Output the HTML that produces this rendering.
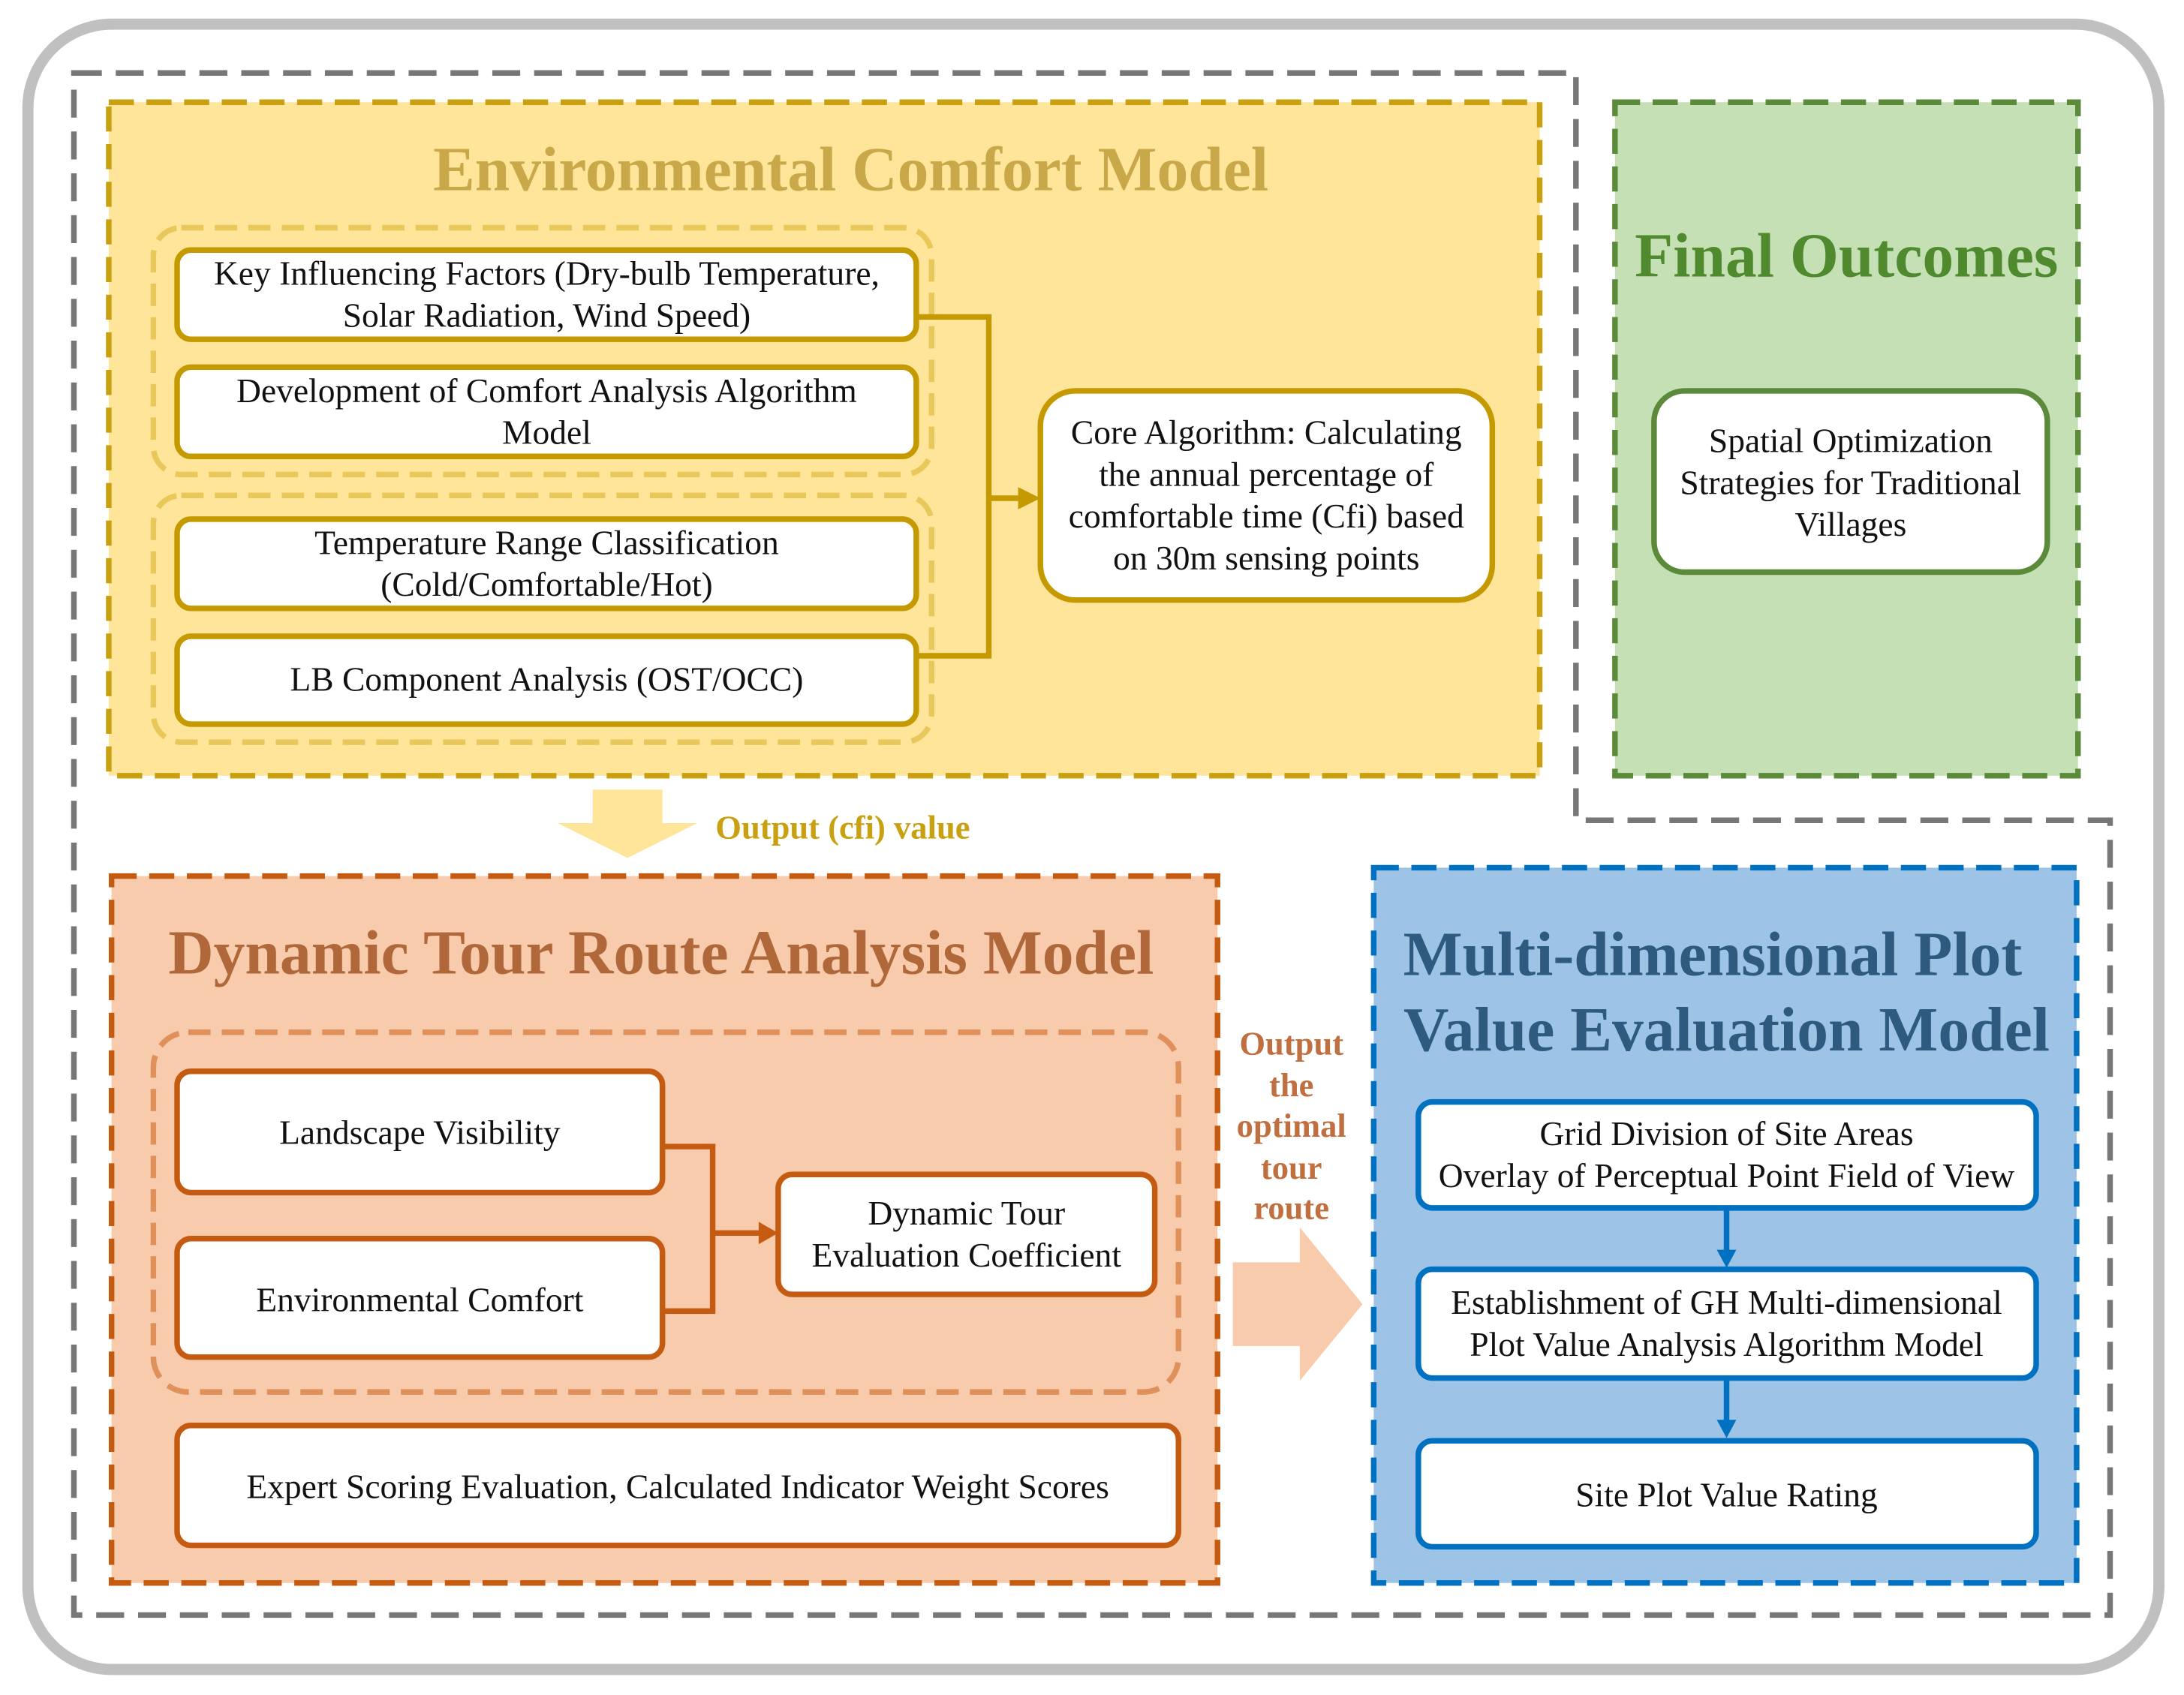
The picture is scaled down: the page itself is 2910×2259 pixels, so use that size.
<!DOCTYPE html>
<html><head><meta charset="utf-8"><style>
html,body{margin:0;padding:0;background:#fff;}
svg{display:block;}
text{font-family:"Liberation Serif",serif;}
</style></head><body>
<svg width="2910" height="2259" viewBox="0 0 1566 1215" xmlns="http://www.w3.org/2000/svg">
<rect width="1566" height="1215" fill="#fff"/>
<rect x="20" y="17" width="1528" height="1180" rx="60" fill="#fff" stroke="#c0c0c0" stroke-width="8"/>
<path d="M53,52 L1130,52 L1130,588 L1513,588 L1513,1158 L53,1158 Z" fill="none" stroke="#777" stroke-width="4" stroke-dasharray="20 10"/>

<!-- Yellow -->
<rect x="78" y="73" width="1026" height="483" fill="#fee599" stroke="#c9a010" stroke-width="4" stroke-dasharray="18 9"/>
<text x="610" y="136" text-anchor="middle" font-size="45" font-weight="bold" fill="#c9a84a">Environmental Comfort Model</text>
<rect x="110" y="163" width="558" height="177" rx="20" fill="none" stroke="#e8c85a" stroke-width="4" stroke-dasharray="16 8"/>
<rect x="110" y="355" width="558" height="177" rx="20" fill="none" stroke="#e8c85a" stroke-width="4" stroke-dasharray="16 8"/>
<g fill="#fff" stroke="#c49a00" stroke-width="4">
<rect x="127" y="179" width="530" height="64" rx="10"/>
<rect x="127" y="263" width="530" height="64" rx="10"/>
<rect x="127" y="372" width="530" height="64" rx="10"/>
<rect x="127" y="456" width="530" height="63" rx="10"/>
<rect x="746" y="280" width="324" height="150" rx="25"/>
</g>
<g font-size="24.5" text-anchor="middle" fill="#111">
<text x="392" y="204">Key Influencing Factors (Dry-bulb Temperature,</text>
<text x="392" y="234">Solar Radiation, Wind Speed)</text>
<text x="392" y="288">Development of Comfort Analysis Algorithm</text>
<text x="392" y="318">Model</text>
<text x="392" y="397">Temperature Range Classification</text>
<text x="392" y="427">(Cold/Comfortable/Hot)</text>
<text x="392" y="495">LB Component Analysis (OST/OCC)</text>
<text x="908" y="318">Core Algorithm: Calculating</text>
<text x="908" y="348">the annual percentage of</text>
<text x="908" y="378">comfortable time (Cfi) based</text>
<text x="908" y="408">on 30m sensing points</text>
</g>
<path d="M657,227 L709,227 L709,470 L657,470 M709,357 L732,357" fill="none" stroke="#c49a00" stroke-width="4"/>
<path d="M730,349 L746,357 L730,365 Z" fill="#c49a00"/>

<!-- Green -->
<rect x="1158" y="73" width="332" height="483" fill="#c5e0b4" stroke="#5a8a3a" stroke-width="4" stroke-dasharray="18 9"/>
<text x="1324" y="198" text-anchor="middle" font-size="45" font-weight="bold" fill="#4f8a2e">Final Outcomes</text>
<rect x="1186" y="280" width="282" height="130" rx="22" fill="#fff" stroke="#5a8a3a" stroke-width="4"/>
<g font-size="24.5" text-anchor="middle" fill="#111">
<text x="1327" y="324">Spatial Optimization</text>
<text x="1327" y="354">Strategies for Traditional</text>
<text x="1327" y="384">Villages</text>
</g>

<!-- yellow down arrow -->
<path d="M425,566 L475,566 L475,590 L500,590 L450,615 L400,590 L425,590 Z" fill="#fee599"/>
<text x="513" y="601" font-size="24" font-weight="bold" fill="#c9a010">Output (cfi) value</text>

<!-- Orange -->
<rect x="80" y="628" width="793" height="507" fill="#f8cbad" stroke="#c55a11" stroke-width="4" stroke-dasharray="18 9"/>
<text x="474" y="698" text-anchor="middle" font-size="45" font-weight="bold" fill="#b0683a">Dynamic Tour Route Analysis Model</text>
<rect x="110" y="740" width="735" height="258" rx="25" fill="none" stroke="#e0905a" stroke-width="4" stroke-dasharray="16 8"/>
<g fill="#fff" stroke="#c55a11" stroke-width="4">
<rect x="127" y="768" width="348" height="87" rx="10"/>
<rect x="127" y="888" width="348" height="85" rx="10"/>
<rect x="558" y="842" width="270" height="86" rx="10"/>
<rect x="127" y="1022" width="718" height="86" rx="10"/>
</g>
<path d="M475,822 L511,822 L511,940 L475,940 M511,884 L548,884" fill="none" stroke="#c55a11" stroke-width="4"/>
<path d="M544,876 L558,884 L544,892 Z" fill="#c55a11"/>
<g font-size="24.5" text-anchor="middle" fill="#111">
<text x="301" y="820">Landscape Visibility</text>
<text x="301" y="940">Environmental Comfort</text>
<text x="693" y="878">Dynamic Tour</text>
<text x="693" y="908">Evaluation Coefficient</text>
<text x="486" y="1074">Expert Scoring Evaluation, Calculated Indicator Weight Scores</text>
</g>
<g font-size="24" font-weight="bold" text-anchor="middle" fill="#c07040">
<text x="926" y="756">Output</text>
<text x="926" y="786">the</text>
<text x="926" y="815">optimal</text>
<text x="926" y="845">tour</text>
<text x="926" y="874">route</text>
</g>
<path d="M884,905 L932,905 L932,880 L977,935 L932,990 L932,965 L884,965 Z" fill="#f8cbad"/>

<!-- Blue -->
<rect x="985" y="622" width="504" height="513" fill="#9dc3e6" stroke="#0070c0" stroke-width="4" stroke-dasharray="18 9"/>
<text x="1228" y="699" text-anchor="middle" font-size="45" font-weight="bold" fill="#2e5a80">Multi-dimensional Plot</text>
<text x="1238" y="753" text-anchor="middle" font-size="45" font-weight="bold" fill="#2e5a80">Value Evaluation Model</text>
<g fill="#fff" stroke="#0070c0" stroke-width="4">
<rect x="1017" y="790" width="443" height="76" rx="10"/>
<rect x="1017" y="910" width="443" height="78" rx="10"/>
<rect x="1017" y="1033" width="443" height="76" rx="10"/>
</g>
<path d="M1238,866 L1238,898 M1238,988 L1238,1020" stroke="#0070c0" stroke-width="4"/>
<path d="M1231,896 L1238,909 L1245,896 Z M1231,1018 L1238,1031 L1245,1018 Z" fill="#0070c0"/>
<g font-size="24.5" text-anchor="middle" fill="#111">
<text x="1238" y="821">Grid Division of Site Areas</text>
<text x="1238" y="851">Overlay of Perceptual Point Field of View</text>
<text x="1238" y="942">Establishment of GH Multi-dimensional</text>
<text x="1238" y="972">Plot Value Analysis Algorithm Model</text>
<text x="1238" y="1080">Site Plot Value Rating</text>
</g>
</svg>
</body></html>
